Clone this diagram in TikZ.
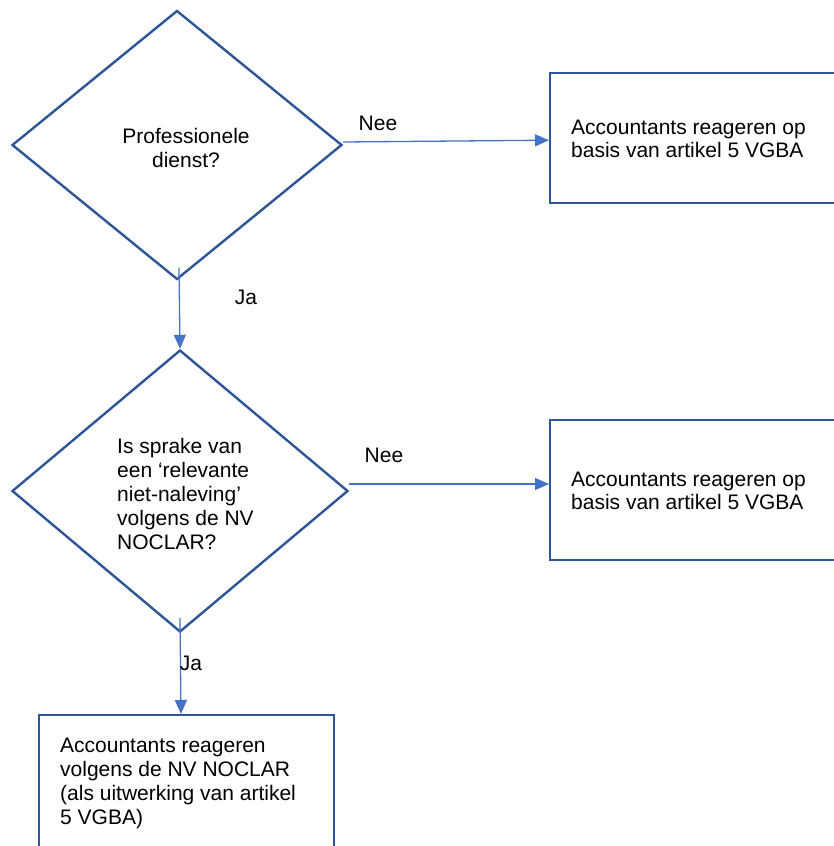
\documentclass[tikz,border=0pt]{standalone}
\usepackage{fontspec}
\setmainfont{Liberation Sans}
\usetikzlibrary{shapes.geometric,arrows.meta}
\definecolor{outl}{HTML}{2F5597}
\definecolor{conn}{HTML}{4472C4}
\begin{document}
\begin{tikzpicture}[x=1pt,y=-1pt,
  every node/.style={font=\fontsize{21}{24}\selectfont},
  decision/.style={shape=diamond,draw=outl,line width=2.4pt,inner sep=0pt},
  actionbox/.style={shape=rectangle,draw=outl,line width=2.4pt,inner sep=0pt,anchor=north west},
  txt/.style={inner sep=0pt,align=left,anchor=west},
  lbl/.style={inner sep=0pt},
  conarrow/.style={draw=conn,line width=1.3pt,-{Triangle[length=14pt,width=12pt]}}
]
\useasboundingbox (0,0) rectangle (834,846);
\clip (0,0) rectangle (834,846);

\node[decision,minimum width=330pt,minimum height=269pt] (d1) at (177,145) {};
\node[lbl,align=center] (t1) at (186,148) {Professionele\\dienst?};

\node[decision,minimum width=336pt,minimum height=282pt] (d2) at (180,491) {};
\node[txt] (t2) at (117,494) {Is sprake van\\een ‘relevante\\niet-naleving’\\volgens de NV\\NOCLAR?};

\node[actionbox,minimum width=300pt,minimum height=130pt] (b1) at (549,72) {};
\node[txt,font=\fontsize{21}{23}\selectfont] (tb1) at (571,139) {Accountants reageren op\\basis van artikel 5 VGBA};

\node[actionbox,minimum width=300pt,minimum height=140pt] (b2) at (549,419) {};
\node[txt,font=\fontsize{21}{23}\selectfont] (tb2) at (571,491) {Accountants reageren op\\basis van artikel 5 VGBA};

\node[actionbox,minimum width=295pt,minimum height=160pt] (b3) at (38,714) {};
\node[txt] (tb3) at (60,783) {Accountants reageren\\volgens de NV NOCLAR\\(als uitwerking van artikel\\5 VGBA)};

\coordinate (e2) at ([yshift=7pt]d2.east);
\draw[conarrow] ([yshift=3pt]d1.east) -- ([yshift=-2pt]b1.west);
\draw[conarrow] (e2) -- (e2 -| b2.west);
\draw[conarrow] ([yshift=13pt,xshift=2pt]d1.south) -- (d2.north);
\draw[conarrow] ([yshift=15pt]d2.south) -- ([xshift=1pt]d2.south |- b3.north);

\node[lbl] (n1) at (378,123) {Nee};
\node[lbl] (n2) at (384,455) {Nee};
\node[lbl] (j1) at (246,297) {Ja};
\node[lbl] (j2) at (191,663) {Ja};
\end{tikzpicture}
\end{document}
